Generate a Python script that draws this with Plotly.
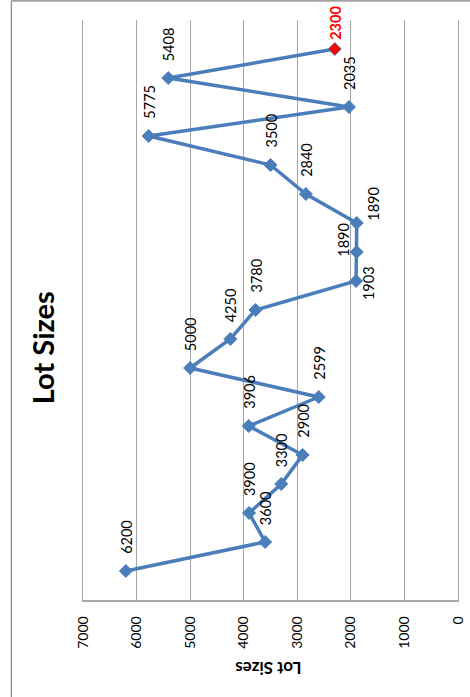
import plotly.graph_objects as go

# Lot size series, in order (first lot at the bottom of the chart)
lot_index = list(range(1, 20))
lot_sizes = [6200, 3600, 3900, 3300, 2900, 3906, 2599, 5000, 4250, 3780,
             1903, 1890, 1890, 2840, 3500, 5775, 2035, 5408, 2300]
value_ticks = [7000, 6000, 5000, 4000, 3000, 2000, 1000, 0]

BLUE = "#4a7ebb"
GRID = "#a6a6a6"
FONT = "Lato"

marker_colors = [BLUE] * (len(lot_sizes) - 1) + ["#ff0000"]

fig = go.Figure()
fig.add_trace(go.Scatter(
    x=lot_sizes,
    y=lot_index,
    mode="lines+markers",
    line=dict(color=BLUE, width=3.5),
    marker=dict(symbol="diamond", size=10, color=marker_colors,
                line=dict(color=BLUE, width=1)),
    hoverinfo="x",
    showlegend=False,
))

# Per-point label offsets (pixels); most labels sit just past the marker
label_shift = {11: (12, -2), 12: (-14, 12), 13: (16, 19), 19: (0, 26)}

annotations = []
for k, v in zip(lot_index, lot_sizes):
    dx, dy = label_shift.get(k, (0, 34))
    last = k == lot_index[-1]
    annotations.append(dict(
        x=v, y=k, xref="x", yref="y",
        text=f"<b>{v}</b>" if last else str(v),
        showarrow=False, textangle=-90,
        xanchor="center", yanchor="middle",
        xshift=dx, yshift=dy,
        font=dict(family=FONT, size=14.5, color="#ff0000" if last else "#000000"),
    ))

# Chart title, set along the left edge
annotations.append(dict(
    x=-0.106, y=0.4345, xref="paper", yref="paper",
    text="<b>Lot Sizes</b>", showarrow=False, textangle=-90,
    xanchor="center", yanchor="middle",
    font=dict(family=FONT, size=29, color="#000000"),
))
# Value axis title
annotations.append(dict(
    x=0.494, y=-0.117, xref="paper", yref="paper",
    text="<b>Lot Sizes</b>", showarrow=False, textangle=180,
    xanchor="center", yanchor="middle",
    font=dict(family=FONT, size=17, color="#000000"),
))

# Outer chart frame (top and left edges)
frame = [
    dict(type="line", xref="paper", yref="paper",
         x0=-0.191, x1=1.04, y0=1.033, y1=1.033,
         line=dict(color="#a0a0a0", width=2)),
    dict(type="line", xref="paper", yref="paper",
         x0=-0.191, x1=-0.191, y0=-0.2, y1=1.033,
         line=dict(color="#868686", width=1.2)),
]

fig.update_layout(
    width=470, height=697,
    margin=dict(l=83, r=12, t=20, b=97, pad=0, autoexpand=False),
    paper_bgcolor="white", plot_bgcolor="white",
    annotations=annotations,
    shapes=frame,
    font=dict(family=FONT, size=15, color="#000000"),
    xaxis=dict(
        range=[7000, 0], tickvals=value_ticks,
        ticktext=[str(t) for t in value_ticks],
        tickangle=-90, showgrid=True, gridcolor=GRID, gridwidth=1,
        zeroline=False, showline=True, linecolor=GRID, linewidth=1.5,
        ticks="", ticklabelstandoff=9,
        tickfont=dict(family=FONT, size=14, color="#000000"),
    ),
    yaxis=dict(
        range=[0, 20], showticklabels=False, ticks="", showgrid=False,
        zeroline=False, showline=True, mirror=True,
        linecolor=GRID, linewidth=1.2,
    ),
)

fig.write_html("out.html")
